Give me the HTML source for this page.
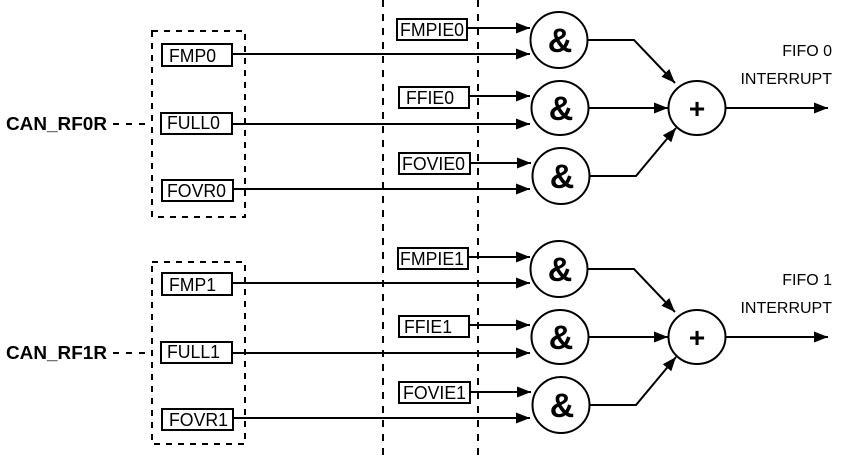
<!DOCTYPE html>
<html><head><style>html,body{margin:0;padding:0;background:#fff}svg{display:block}</style></head>
<body>
<svg width="853" height="462" viewBox="0 0 853 462" xmlns="http://www.w3.org/2000/svg" font-family="Liberation Sans, sans-serif">
<defs>
<marker id="a" markerWidth="14" markerHeight="11" refX="14" refY="5.5" orient="auto" markerUnits="userSpaceOnUse"><path d="M0,0 L14,5.5 L0,11 Z" fill="#000"/></marker>
</defs>
<line x1="383" y1="0" x2="383" y2="462" stroke="#000" stroke-width="2" stroke-dasharray="7,7"/>
<line x1="478" y1="0" x2="478" y2="462" stroke="#000" stroke-width="2" stroke-dasharray="7,7"/>
<g>
<rect x="152" y="31" width="93" height="186" fill="none" stroke="#000" stroke-width="2" stroke-dasharray="6,6"/>
<line x1="113" y1="124" x2="152" y2="124" stroke="#000" stroke-width="2" stroke-dasharray="6,7"/>
<g fill="#fff" stroke="#000" stroke-width="2">
<rect x="162" y="44" width="70" height="22"/><rect x="161" y="113" width="71" height="21"/><rect x="162" y="180" width="71" height="21"/>
<rect x="397" y="19" width="70" height="21"/><rect x="399" y="87" width="70" height="21"/><rect x="399" y="153" width="71" height="21"/>
<ellipse cx="559" cy="40" rx="28.5" ry="28"/><ellipse cx="560" cy="108" rx="28.5" ry="27"/><ellipse cx="561" cy="176" rx="28.5" ry="28"/>
<ellipse cx="697" cy="108" rx="28.5" ry="27"/>
</g>
<g stroke="#000" stroke-width="2" fill="none" marker-end="url(#a)">
<line x1="233" y1="54" x2="530" y2="54"/><line x1="233" y1="124" x2="530" y2="124"/><line x1="234" y1="189" x2="530" y2="189"/>
<line x1="467" y1="28" x2="530" y2="28"/><line x1="469" y1="96" x2="530" y2="96"/><line x1="470" y1="163" x2="531" y2="163"/>
<polyline points="588,40 634,40 675,83"/><line x1="589" y1="108" x2="668" y2="108"/><polyline points="590,176 636,176 676,128"/>
<line x1="726" y1="108" x2="828" y2="108"/>
</g>
<g font-size="18" fill="#000" lengthAdjust="spacingAndGlyphs">
<text x="169" y="62" textLength="47" lengthAdjust="spacingAndGlyphs">FMP0</text>
<text x="167" y="129" textLength="53" lengthAdjust="spacingAndGlyphs">FULL0</text>
<text x="167" y="197" textLength="59" lengthAdjust="spacingAndGlyphs">FOVR0</text>
<text x="400" y="36" textLength="64" lengthAdjust="spacingAndGlyphs">FMPIE0</text>
<text x="406" y="104" textLength="48" lengthAdjust="spacingAndGlyphs">FFIE0</text>
<text x="402" y="170" textLength="63" lengthAdjust="spacingAndGlyphs">FOVIE0</text>
</g>
<text x="6" y="130" font-size="18" font-weight="bold" textLength="101" lengthAdjust="spacingAndGlyphs">CAN_RF0R</text>
<g font-size="34" font-weight="bold" text-anchor="middle"><text x="560" y="52">&amp;</text><text x="561" y="120">&amp;</text><text x="562" y="188">&amp;</text><text x="697" y="118" font-size="28">+</text></g>
<g font-size="16" text-anchor="end"><text x="832" y="56">FIFO 0</text><text x="832" y="84">INTERRUPT</text></g>
</g>
<g transform="translate(0,229)">
<rect x="152" y="33" width="93" height="182" fill="none" stroke="#000" stroke-width="2" stroke-dasharray="6,6"/>
<line x1="113" y1="124" x2="152" y2="124" stroke="#000" stroke-width="2" stroke-dasharray="6,7"/>
<g fill="#fff" stroke="#000" stroke-width="2">
<rect x="162" y="44" width="70" height="22"/><rect x="161" y="113" width="71" height="21"/><rect x="162" y="180" width="71" height="21"/>
<rect x="398" y="19" width="70" height="21"/><rect x="399" y="87" width="70" height="21"/><rect x="399" y="153" width="71" height="21"/>
<ellipse cx="559" cy="40" rx="28.5" ry="28"/><ellipse cx="560" cy="108" rx="28.5" ry="27"/><ellipse cx="561" cy="176" rx="28.5" ry="28"/>
<ellipse cx="697" cy="108" rx="28.5" ry="27"/>
</g>
<g stroke="#000" stroke-width="2" fill="none" marker-end="url(#a)">
<line x1="233" y1="54" x2="530" y2="54"/><line x1="233" y1="124" x2="530" y2="124"/><line x1="234" y1="189" x2="530" y2="189"/>
<line x1="468" y1="28" x2="530" y2="28"/><line x1="469" y1="96" x2="530" y2="96"/><line x1="470" y1="163" x2="531" y2="163"/>
<polyline points="588,40 634,40 675,83"/><line x1="589" y1="108" x2="668" y2="108"/><polyline points="590,176 636,176 676,128"/>
<line x1="726" y1="108" x2="828" y2="108"/>
</g>
<g font-size="18" fill="#000">
<text x="169" y="62" textLength="47" lengthAdjust="spacingAndGlyphs">FMP1</text>
<text x="167" y="129" textLength="53" lengthAdjust="spacingAndGlyphs">FULL1</text>
<text x="169" y="197" textLength="59" lengthAdjust="spacingAndGlyphs">FOVR1</text>
<text x="400" y="36" textLength="64" lengthAdjust="spacingAndGlyphs">FMPIE1</text>
<text x="404" y="104" textLength="48" lengthAdjust="spacingAndGlyphs">FFIE1</text>
<text x="403" y="170" textLength="63" lengthAdjust="spacingAndGlyphs">FOVIE1</text>
</g>
<text x="6" y="130" font-size="18" font-weight="bold" textLength="101" lengthAdjust="spacingAndGlyphs">CAN_RF1R</text>
<g font-size="34" font-weight="bold" text-anchor="middle"><text x="560" y="52">&amp;</text><text x="561" y="120">&amp;</text><text x="562" y="188">&amp;</text><text x="697" y="118" font-size="28">+</text></g>
<g font-size="16" text-anchor="end"><text x="832" y="56">FIFO 1</text><text x="832" y="84">INTERRUPT</text></g>
</g>
</svg>
</body></html>
